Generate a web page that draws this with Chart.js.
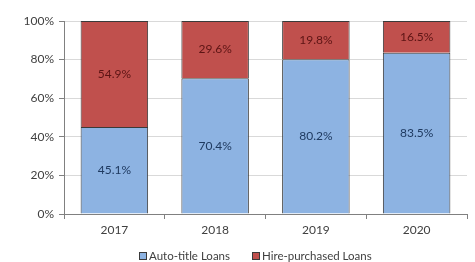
<!DOCTYPE html>
<html>
<head>
<meta charset="utf-8">
<script src="https://cdn.jsdelivr.net/npm/chart.js@4/dist/chart.umd.min.js"></script>
<style>
  html, body { margin: 0; padding: 0; background: #fff; }
  #wrap { position: relative; width: 475px; height: 262px; }
  #legend {
    position: absolute; left: 139px; top: 249px;
    display: flex; gap: 22px;
    font: 11.5px/14px Lato, "Noto Sans", sans-serif; color: #404040;
  }
  #legend .item { display: flex; align-items: center; gap: 2px; white-space: nowrap; }
  #legend .box { width: 6px; height: 6px; border: 1px solid #3a3a3a; }
</style>
</head>
<body>
<div id="wrap">
  <canvas id="loanChart" width="475" height="262"></canvas>
  <div id="legend"></div>
</div>
<script>
const years = ['2017', '2018', '2019', '2020'];
const autoTitle = [45.1, 70.4, 80.2, 83.5];
const hirePurchased = [54.9, 29.6, 19.8, 16.5];
const seriesNames = ['Auto-title Loans', 'Hire-purchased Loans'];

const FONT = 'Lato, "Noto Sans", sans-serif';

// writes each segment's share in the middle of its bar
const valueLabels = {
  id: 'valueLabels',
  afterDatasetsDraw(chart) {
    const ctx = chart.ctx;
    ctx.save();
    ctx.font = '12px ' + FONT;
    ctx.textAlign = 'center';
    ctx.textBaseline = 'middle';
    chart.data.datasets.forEach((ds, i) => {
      const meta = chart.getDatasetMeta(i);
      meta.data.forEach((bar, j) => {
        const p = bar.getProps(['x', 'y', 'base'], true);
        ctx.fillStyle = ds.labelColor;
        ctx.fillText(ds.data[j].toFixed(1) + '%', p.x, (p.y + p.base) / 2);
      });
    });
    ctx.restore();
  }
};

// html legend so the spacing can follow the original
const htmlLegend = {
  id: 'htmlLegend',
  afterUpdate(chart) {
    const el = document.getElementById('legend');
    el.innerHTML = '';
    const items = chart.options.plugins.legend.labels.generateLabels(chart);
    items.forEach(item => {
      const row = document.createElement('span');
      row.className = 'item';
      const box = document.createElement('span');
      box.className = 'box';
      box.style.background = item.fillStyle;
      const txt = document.createElement('span');
      txt.textContent = item.text;
      row.appendChild(box);
      row.appendChild(txt);
      el.appendChild(row);
    });
  }
};

new Chart(document.getElementById('loanChart'), {
  type: 'bar',
  data: {
    labels: years,
    datasets: [
      {
        label: seriesNames[0],
        data: autoTitle,
        backgroundColor: '#8db3e2',
        borderColor: '#3a3a3a',
        borderWidth: 1,
        labelColor: '#1f3a60'
      },
      {
        label: seriesNames[1],
        data: hirePurchased,
        backgroundColor: '#c0504d',
        borderColor: '#3a3a3a',
        borderWidth: 1,
        labelColor: '#5c1414'
      }
    ]
  },
  options: {
    responsive: false,
    animation: false,
    layout: { padding: { left: 0, right: 8, top: 21, bottom: 24 } },
    datasets: {
      bar: { barPercentage: 0.67, categoryPercentage: 1 }
    },
    scales: {
      x: {
        stacked: true,
        afterFit(scale) { scale.height = 24; },
        grid: { drawOnChartArea: false, drawTicks: true, tickLength: 5, color: '#808080' },
        border: { color: '#808080' },
        ticks: { color: '#404040', font: { family: FONT, size: 12 }, padding: 4 }
      },
      y: {
        stacked: true,
        min: 0,
        max: 100,
        afterFit(scale) { scale.width = 64; },
        grid: { color: '#d9d9d9', tickColor: '#808080', tickLength: 5 },
        border: { color: '#808080' },
        ticks: {
          stepSize: 20,
          color: '#404040',
          font: { family: FONT, size: 12 },
          padding: 5,
          callback: v => v + '%'
        }
      }
    },
    plugins: {
      tooltip: { enabled: false },
      legend: { display: false }
    }
  },
  plugins: [valueLabels, htmlLegend]
});
</script>
</body>
</html>
